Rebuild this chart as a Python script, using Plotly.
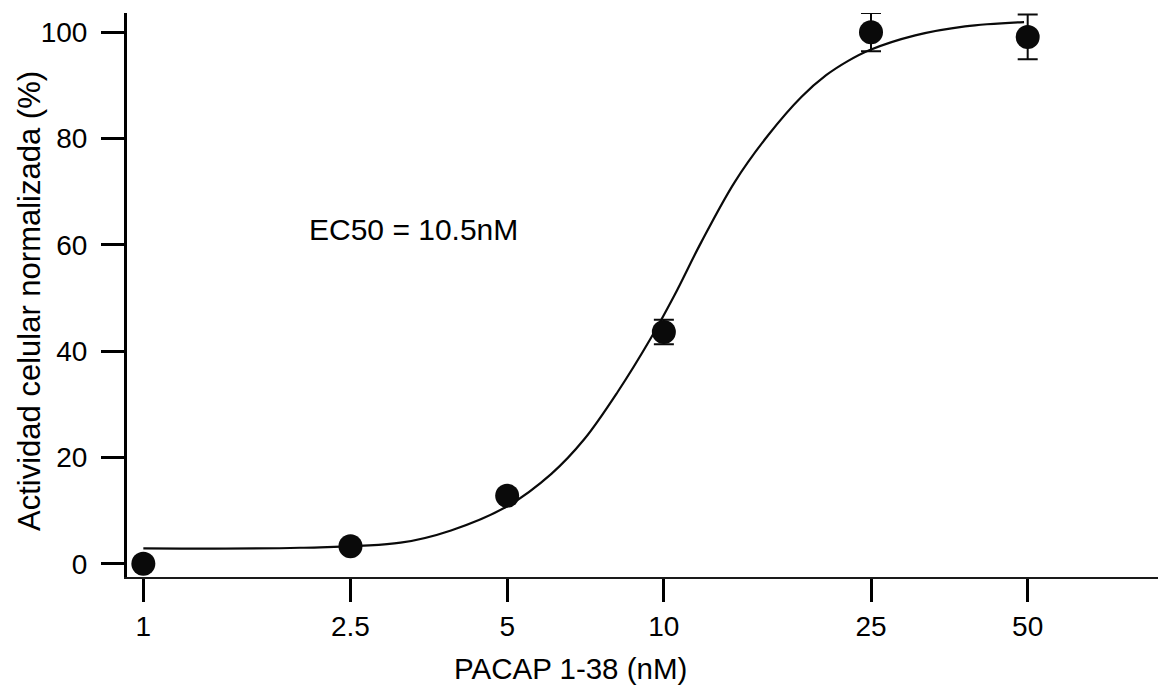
import plotly.graph_objects as go

# Measured data points
conc = [1, 2.5, 5, 10, 25, 50]
activity = [0.0, 3.3, 12.8, 43.6, 100.0, 99.1]
err = [0, 0, 0, 2.3, 3.6, 4.2]

# Fitted curve
curve_x = [1.0, 2.0, 3.12, 3.90, 5.0, 6.08, 7.03, 8.15, 9.45, 10.48, 11.8, 13.68,
           15.86, 18.37, 20.5, 22.6, 24.8, 30.4, 37.9, 49.2]
curve_y = [2.9, 3.0, 3.95, 6.26, 10.8, 16.9, 23.4, 32.3, 42.5, 50.5, 60.5, 71.8,
           80.6, 87.8, 91.9, 94.6, 96.6, 99.4, 101.1, 101.9]

x_ticks = [1, 2.5, 5, 10, 25, 50]
x_tick_text = ["1", "2.5", "5", "10", "25", "50"]
y_ticks = [0, 20, 40, 60, 80, 100]

FONT = "Liberation Sans, Arial, sans-serif"

# page body has an 8px margin; figure is sized so plot lands at reference pixels
OFF = 8
W, H = 1166 - OFF, 685 - OFF
pl, pr, pt, pb = 127 - OFF, 1162 - OFF, 13 - OFF, 577 - OFF

fig = go.Figure()
fig.add_trace(go.Scatter(
    x=curve_x, y=curve_y, mode="lines",
    line=dict(color="#0a0a0a", width=2.2, shape="spline", smoothing=1.0),
    hoverinfo="skip", showlegend=False))
fig.add_trace(go.Scatter(
    x=conc, y=activity, mode="markers",
    marker=dict(color="#0a0a0a", size=24),
    error_y=dict(type="data", array=err, visible=True, color="#0a0a0a",
                 thickness=2, width=10),
    showlegend=False))


def px2paper(x, y):
    return (x - OFF - pl) / (pr - pl), (pb - (y - OFF)) / (pb - pt)


ann = []
for text, x, y, size, angle in [
    ("EC50 = 10.5nM", 307, 229, 30, 0),
    ("PACAP 1-38 (nM)", 570, 668, 29.5, 0),
    ("Actividad celular normalizada (%)", 29, 301, 31, -90),
]:
    ax, ay = px2paper(x, y)
    ann.append(dict(text=text, x=ax, y=ay, xref="paper", yref="paper",
                    showarrow=False, textangle=angle,
                    xanchor="left" if text.startswith("EC50") else "center",
                    yanchor="middle", font=dict(family=FONT, size=size)))

fig.update_layout(
    width=W, height=H,
    margin=dict(l=pl, r=W - pr, t=pt, b=H - pb),
    paper_bgcolor="white", plot_bgcolor="white",
    font=dict(family=FONT, size=28, color="#000000"),
    xaxis=dict(type="log", range=[-0.0314, 1.957], showgrid=False, zeroline=False,
               showline=True, linecolor="#1a1a1a", linewidth=2,
               ticks="outside", ticklen=23, tickwidth=3, tickcolor="#000000",
               tickvals=x_ticks, ticktext=x_tick_text,
               tickfont=dict(family=FONT, size=28)),
    yaxis=dict(range=[-2.5, 103.6], showgrid=False, zeroline=False,
               showline=True, linecolor="#000000", linewidth=3,
               ticks="outside", ticklen=23, tickwidth=3, tickcolor="#000000",
               tickvals=y_ticks, ticklabelstandoff=8,
               tickfont=dict(family=FONT, size=28)),
    annotations=ann,
)

fig.write_html("out.html")
